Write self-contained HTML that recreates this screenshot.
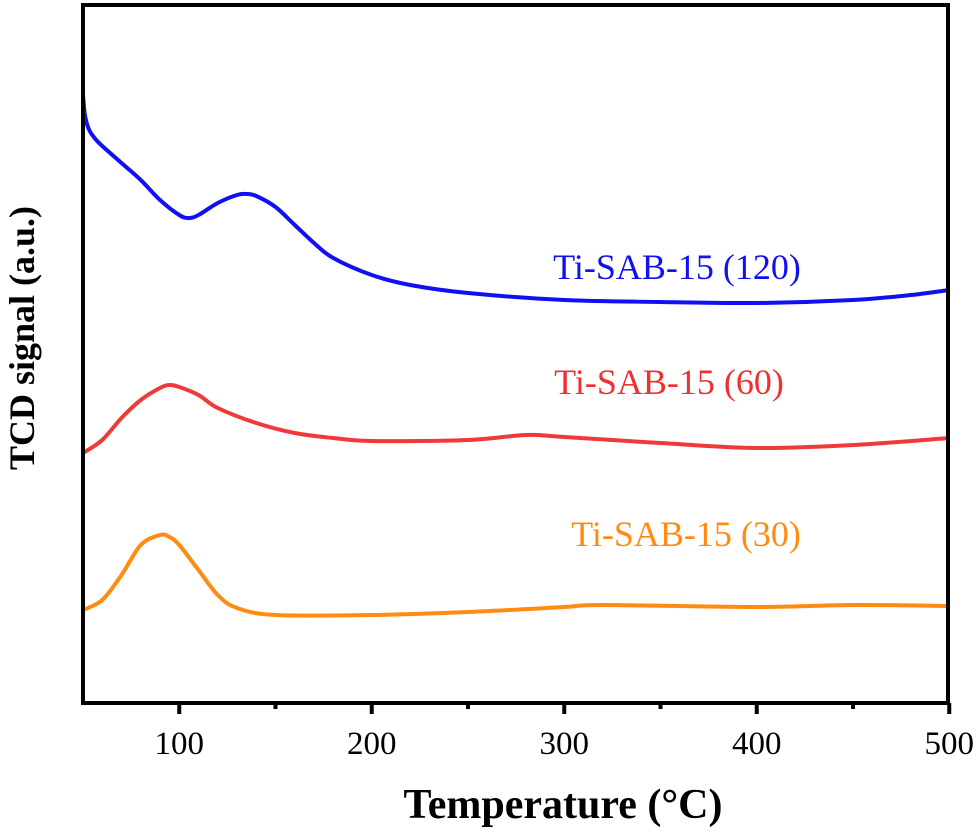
<!DOCTYPE html>
<html><head><meta charset="utf-8"><style>
body{margin:0;background:#fff}
svg{display:block}
text{font-family:"Liberation Serif",serif}
</style></head><body>
<svg id="chart" width="977" height="832" viewBox="0 0 977 832" xmlns="http://www.w3.org/2000/svg">
<g id="series"></g>
<rect x="83" y="5" width="865" height="698" fill="none" stroke="#000" stroke-width="4"/>
<g id="axis"></g>
<text x="677" y="279" font-size="36" fill="#1010f0" text-anchor="middle">Ti-SAB-15 (120)</text>
<text x="669" y="394" font-size="36" fill="#f03030" text-anchor="middle">Ti-SAB-15 (60)</text>
<text x="686" y="546" font-size="36" fill="#ff8c10" text-anchor="middle">Ti-SAB-15 (30)</text>
<text x="563" y="818" font-size="42" font-weight="bold" text-anchor="middle">Temperature (°C)</text>
<text transform="translate(34,338) rotate(-90)" font-size="36" font-weight="bold" text-anchor="middle">TCD signal (a.u.)</text>
</svg>
<script>
const xTicks=[100,200,300,400,500];
const xMinor=[150,250,350,450];
const blueX=[50,51,53,56,60,70,80,90,100,105,110,120,130,135,140,150,160,170,180,200,220,250,300,350,400,450,480,500];
const blueY=[608,588,574,565,557,540,523,503,488,485,488,500,508,509,507,496,478,460,445,428,418,410,403,401,400,403,408,413];
const redX=[50,60,70,80,90,95,100,110,120,140,160,180,200,250,280,300,350,400,450,500];
const redY=[250,263,285,303,315,318,316,308,295,280,270,265,262,263,268,266,260,255,258,265];
const orangeX=[50,60,70,80,90,95,100,110,120,130,150,200,250,300,320,400,450,500];
const orangeY=[93,103,128,158,168,166,158,133,108,95,88,88,91,96,98,96,98,97];
const X=v=>83+(v-50)*1.925;
const Y=v=>703-v;
const NS="http://www.w3.org/2000/svg";
const sg=document.getElementById('series');
function line(xs,ys,color,name){
  const p=document.createElementNS(NS,'path');
  const pts=xs.map((x,i)=>[X(x),Y(ys[i])]);
  let d='M'+pts[0][0]+','+pts[0][1];
  for(let i=0;i<pts.length-1;i++){
    const p0=pts[i-1]||pts[i],p1=pts[i],p2=pts[i+1],p3=pts[i+2]||p2;
    const c1x=p1[0]+(p2[0]-p0[0])/6,c1y=p1[1]+(p2[1]-p0[1])/6;
    const c2x=p2[0]-(p3[0]-p1[0])/6,c2y=p2[1]-(p3[1]-p1[1])/6;
    d+=` C${c1x},${c1y} ${c2x},${c2y} ${p2[0]},${p2[1]}`;
  }
  p.setAttribute('d',d);p.setAttribute('fill','none');p.setAttribute('stroke',color);p.setAttribute('stroke-width','4');
  
  
  sg.appendChild(p);
}
line(blueX,blueY,'#1010f0','series-120');
line(redX,redY,'#f03a3a','series-60');
line(orangeX,orangeY,'#ff8c10','series-30');
const ax=document.getElementById('axis');
xTicks.forEach(t=>{
  const l=document.createElementNS(NS,'line');
  l.setAttribute('x1',X(t));l.setAttribute('x2',X(t));l.setAttribute('y1',703);l.setAttribute('y2',714);
  l.setAttribute('stroke','#000');l.setAttribute('stroke-width','4');
  
  
  ax.appendChild(l);
  const tx=document.createElementNS(NS,'text');
  tx.setAttribute('x',Math.min(X(t),950));tx.setAttribute('y',754);tx.setAttribute('font-size','33');tx.setAttribute('text-anchor','middle');
  tx.textContent=t;
  
  
  ax.appendChild(tx);
});
xMinor.forEach(t=>{
  const l=document.createElementNS(NS,'line');
  l.setAttribute('x1',X(t));l.setAttribute('x2',X(t));l.setAttribute('y1',703);l.setAttribute('y2',709);
  l.setAttribute('stroke','#000');l.setAttribute('stroke-width','4');
  
  
  ax.appendChild(l);
});
</script>
</body></html>
